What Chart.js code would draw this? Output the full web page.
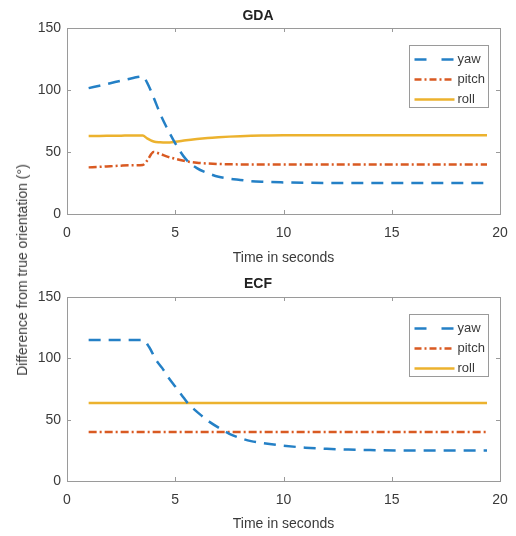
<!DOCTYPE html>
<html>
<head>
<meta charset="utf-8">
<script src="https://cdn.jsdelivr.net/npm/chart.js@4.4.1/dist/chart.umd.min.js"></script>
<style>
  body { margin: 0; background: #fff; }
  #wrap { position: relative; width: 516px; height: 536px; }
  canvas { position: absolute; left: 0; }
  #gdaChart { top: 0; }
  #ecfChart { top: 270px; }
  #ylabel {
    position: absolute; left: 22px; top: 270px; z-index: 2;
    transform: translate(-50%, -50%) rotate(-90deg);
    white-space: nowrap; color: #3a3a3a;
    font: 14px "Liberation Sans", Arial, sans-serif;
  }
</style>
</head>
<body>
<div id="wrap">
  <canvas id="gdaChart" width="516" height="270"></canvas>
  <canvas id="ecfChart" width="516" height="266"></canvas>
  <div id="ylabel">Difference from true orientation (°)</div>
</div>
<script>
// GDA panel
const gdaTime  = [1, 1.5, 2, 2.5, 3, 3.5, 3.7, 4, 4.3, 4.6, 5, 5.5, 6, 6.5, 7, 7.5, 8, 8.5, 9, 10, 11, 12, 14, 16, 18, 19.4]
const gdaYaw   = [101.5, 103.5, 105.5, 107.5, 109.5, 111, 106, 94, 81, 70, 57, 44, 37, 33, 30, 28.5, 27.5, 26.5, 26, 25.5, 25.2, 25, 25, 25, 25, 25]
const gdaPitch = [37.6, 38, 38.5, 39, 39.3, 39.5, 43, 50, 48.5, 46.5, 44.5, 42.5, 41.3, 40.7, 40.3, 40.1, 40, 40, 40, 40, 40, 40, 40, 40, 40, 40]
const gdaRoll  = [63, 63, 63.1, 63.2, 63.3, 63.3, 61, 58.5, 57.8, 57.6, 58.2, 59.5, 60.5, 61.3, 61.9, 62.4, 62.8, 63.1, 63.3, 63.5, 63.5, 63.5, 63.5, 63.5, 63.5, 63.5]

// ECF panel
const ecfTime  = [1, 2, 3, 3.5, 3.8, 4.1, 4.4, 4.7, 5, 5.3, 5.6, 5.9, 6.2, 6.6, 7, 7.5, 8, 8.5, 9, 10, 11, 12, 13, 14, 16, 18, 19.4]
const ecfYaw   = [115, 115, 115, 115, 109, 99, 92, 84, 77, 70, 63, 58, 53.5, 48, 43.5, 38.5, 35, 32.5, 31, 28.8, 27.2, 26.2, 25.6, 25.2, 24.8, 24.8, 24.8]
const ecfPitch = [40, 40, 40, 40, 40, 40, 40, 40, 40, 40, 40, 40, 40, 40, 40, 40, 40, 40, 40, 40, 40, 40, 40, 40, 40, 40, 40]
const ecfRoll  = [63.6, 63.6, 63.6, 63.6, 63.6, 63.6, 63.6, 63.6, 63.6, 63.6, 63.6, 63.6, 63.6, 63.6, 63.6, 63.6, 63.6, 63.6, 63.6, 63.6, 63.6, 63.6, 63.6, 63.6, 63.6, 63.6, 63.6]

const xTicks = [0, 5, 10, 15, 20]
const yTicks = [0, 50, 100, 150]

const FONT = '"Liberation Sans", Arial, sans-serif'
const TEXT = "#3a3a3a"
const AXIS = "#9a9a9a"

// MATLAB-like box, inward ticks and framed legend
const matlabAxes = {
  id: "matlabAxes",
  afterDatasetsDraw(chart) {
    const { ctx, chartArea: a, scales } = chart
    ctx.save()
    ctx.strokeStyle = AXIS
    ctx.lineWidth = 1
    ctx.strokeRect(Math.round(a.left) + 0.5, Math.round(a.top) + 0.5, Math.round(a.width), Math.round(a.height))
    ctx.beginPath()
    xTicks.forEach((v) => {
      const px = Math.round(scales.x.getPixelForValue(v)) + 0.5
      ctx.moveTo(px, a.bottom); ctx.lineTo(px, a.bottom - 4)
      ctx.moveTo(px, a.top); ctx.lineTo(px, a.top + 4)
    })
    yTicks.forEach((v) => {
      const py = Math.round(scales.y.getPixelForValue(v)) + 0.5
      ctx.moveTo(a.left, py); ctx.lineTo(a.left + 4, py)
      ctx.moveTo(a.right, py); ctx.lineTo(a.right - 4, py)
    })
    ctx.stroke()

    // legend
    const w = 79, h = 62
    const x0 = Math.round(a.right - 12 - w) + 0.5
    const y0 = Math.round(a.top + 17) + 0.5
    ctx.fillStyle = "#fff"
    ctx.fillRect(x0, y0, w, h)
    ctx.strokeStyle = AXIS
    ctx.strokeRect(x0, y0, w, h)
    chart.data.datasets.forEach((ds, i) => {
      const y = y0 + 14 + i * 20
      ctx.strokeStyle = ds.borderColor
      ctx.lineWidth = ds.borderWidth
      ctx.setLineDash(ds.borderDash ? (i === 0 ? [12, 15] : [7, 3, 2, 3]) : [])
      ctx.beginPath()
      ctx.moveTo(x0 + 5, y); ctx.lineTo(x0 + 45, y)
      ctx.stroke()
      ctx.setLineDash([])
      ctx.fillStyle = TEXT
      ctx.font = "13px " + FONT
      ctx.textBaseline = "middle"
      ctx.fillText(ds.label, x0 + 48, y)
    })
    ctx.restore()
  },
}

function series(time, values) {
  return time.map((t, i) => ({ x: t, y: values[i] }))
}

function makeChart(id, title, time, yaw, pitch, roll, titlePad, xHeight) {
  return new Chart(document.getElementById(id), {
    type: "line",
    data: {
      datasets: [
        { label: "yaw", data: series(time, yaw), borderColor: "#2480c6", borderWidth: 2.5, borderDash: [12, 8] },
        { label: "pitch", data: series(time, pitch), borderColor: "#d95a22", borderWidth: 2.5, borderDash: [8, 3, 2, 3] },
        { label: "roll", data: series(time, roll), borderColor: "#ecb22e", borderWidth: 2.5 },
      ],
    },
    options: {
      responsive: false,
      devicePixelRatio: 1,
      animation: false,
      layout: { padding: { left: 0, right: 0, top: 0, bottom: 0 } },
      elements: {
        point: { radius: 0 },
        line: { cubicInterpolationMode: "monotone", fill: false },
      },
      plugins: {
        legend: { display: false },
        tooltip: { enabled: false },
        title: {
          display: true,
          text: title,
          color: "#222",
          font: { family: FONT, size: 14, weight: "bold" },
          padding: titlePad,
        },
      },
      scales: {
        x: {
          type: "linear",
          min: 0,
          max: 20,
          grid: { display: false, drawTicks: false },
          border: { display: false },
          ticks: { stepSize: 5, padding: 10.6, maxRotation: 0, color: TEXT, font: { family: FONT, size: 14 } },
          title: {
            display: true,
            text: "Time in seconds",
            color: TEXT,
            font: { family: FONT, size: 14 },
            padding: { top: 4, bottom: 3.6 },
          },
          afterFit: (scale) => {
            scale.height = xHeight
            scale.paddingLeft = 0
            scale.paddingRight = 16
          },
        },
        y: {
          min: 0,
          max: 150,
          grid: { display: false, drawTicks: false },
          border: { display: false },
          ticks: { stepSize: 50, padding: 6, color: TEXT, font: { family: FONT, size: 14 } },
          afterFit: (scale) => { scale.width = 67 },
        },
      },
    },
    plugins: [matlabAxes],
  })
}

makeChart("gdaChart", "GDA", gdaTime, gdaYaw, gdaPitch, gdaRoll, { top: 7.6, bottom: 3.6 }, 56)
makeChart("ecfChart", "ECF", ecfTime, ecfYaw, ecfPitch, ecfRoll, { top: 5.6, bottom: 4.6 }, 55)
</script>
</body>
</html>
